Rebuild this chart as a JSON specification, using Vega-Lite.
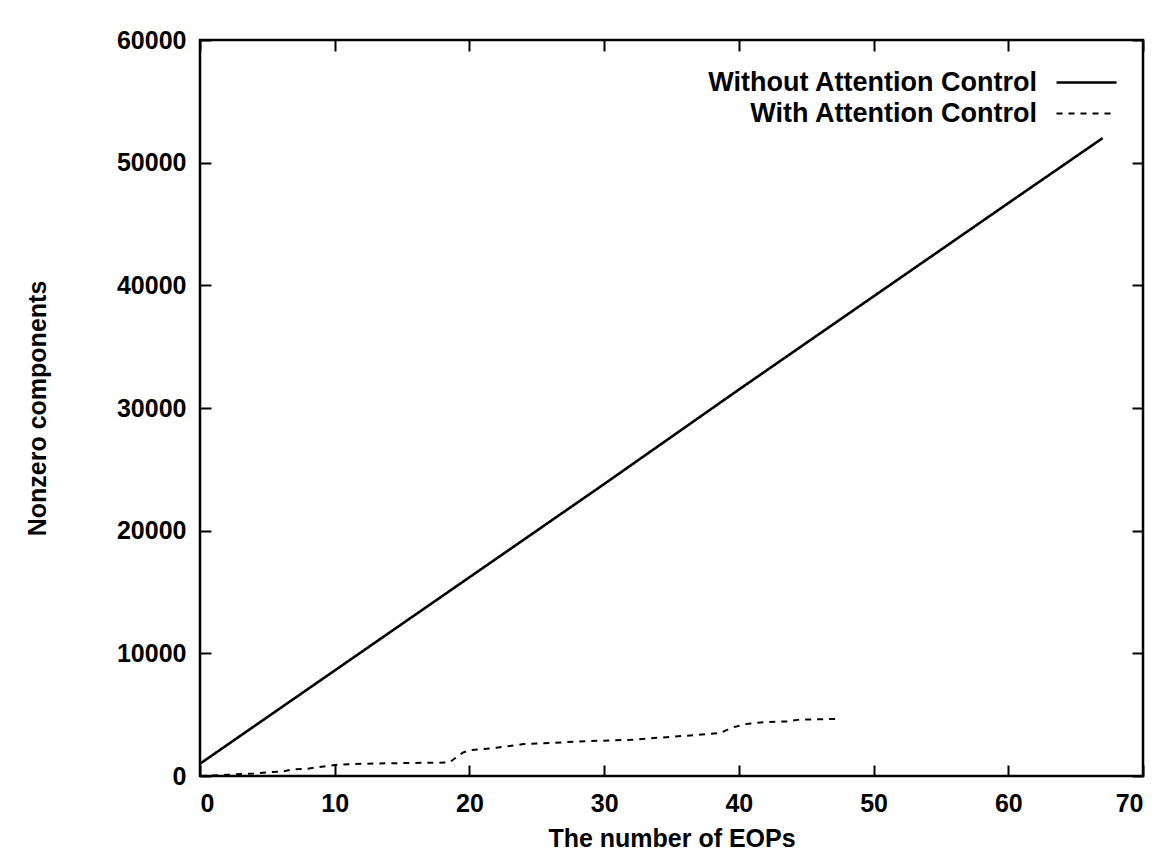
{
  "$schema": "https://vega.github.io/schema/vega-lite/v6.json",
  "autosize": "none",
  "padding": {"left": 200, "top": 40, "right": 29, "bottom": 82},
  "width": 943,
  "height": 736,
  "background": "white",
  "config": {
    "font": "Liberation Sans",
    "view": {"stroke": "black", "strokeWidth": 2.5},
    "axis": {
      "grid": false,
      "domain": false,
      "tickColor": "black",
      "tickSize": -11,
      "tickWidth": 2,
      "labelFont": "Liberation Sans",
      "labelFontWeight": "bold",
      "labelFontSize": 25,
      "labelColor": "black",
      "titleFont": "Liberation Sans",
      "titleFontWeight": "bold",
      "titleFontSize": 25,
      "titleColor": "black"
    }
  },
  "datasets": {
    "series": [
      {"eops": 0, "nonzero": 1000, "series": "Without Attention Control"},
      {"eops": 10, "nonzero": 8600, "series": "Without Attention Control"},
      {"eops": 20, "nonzero": 16200, "series": "Without Attention Control"},
      {"eops": 30, "nonzero": 23800, "series": "Without Attention Control"},
      {"eops": 40, "nonzero": 31500, "series": "Without Attention Control"},
      {"eops": 50, "nonzero": 39100, "series": "Without Attention Control"},
      {"eops": 60, "nonzero": 46700, "series": "Without Attention Control"},
      {"eops": 67, "nonzero": 52000, "series": "Without Attention Control"},
      {"eops": 0, "nonzero": 0, "series": "With Attention Control"},
      {"eops": 2, "nonzero": 100, "series": "With Attention Control"},
      {"eops": 4, "nonzero": 200, "series": "With Attention Control"},
      {"eops": 5, "nonzero": 300, "series": "With Attention Control"},
      {"eops": 6, "nonzero": 350, "series": "With Attention Control"},
      {"eops": 7, "nonzero": 550, "series": "With Attention Control"},
      {"eops": 8, "nonzero": 600, "series": "With Attention Control"},
      {"eops": 10, "nonzero": 900, "series": "With Attention Control"},
      {"eops": 12, "nonzero": 1000, "series": "With Attention Control"},
      {"eops": 15, "nonzero": 1050, "series": "With Attention Control"},
      {"eops": 18.5, "nonzero": 1100, "series": "With Attention Control"},
      {"eops": 19, "nonzero": 1500, "series": "With Attention Control"},
      {"eops": 19.5, "nonzero": 1900, "series": "With Attention Control"},
      {"eops": 20, "nonzero": 2100, "series": "With Attention Control"},
      {"eops": 22, "nonzero": 2300, "series": "With Attention Control"},
      {"eops": 24, "nonzero": 2600, "series": "With Attention Control"},
      {"eops": 26, "nonzero": 2700, "series": "With Attention Control"},
      {"eops": 29, "nonzero": 2850, "series": "With Attention Control"},
      {"eops": 32, "nonzero": 2950, "series": "With Attention Control"},
      {"eops": 35, "nonzero": 3200, "series": "With Attention Control"},
      {"eops": 37, "nonzero": 3350, "series": "With Attention Control"},
      {"eops": 38.6, "nonzero": 3500, "series": "With Attention Control"},
      {"eops": 39.5, "nonzero": 3950, "series": "With Attention Control"},
      {"eops": 40.6, "nonzero": 4250, "series": "With Attention Control"},
      {"eops": 42, "nonzero": 4400, "series": "With Attention Control"},
      {"eops": 43.6, "nonzero": 4450, "series": "With Attention Control"},
      {"eops": 44.5, "nonzero": 4600, "series": "With Attention Control"},
      {"eops": 47.3, "nonzero": 4650, "series": "With Attention Control"}
    ]
  },
  "layer": [
    {
      "data": {"name": "series"},
      "mark": {"type": "line", "color": "black"},
      "encoding": {
        "x": {
          "field": "eops", "type": "quantitative",
          "scale": {"domain": [0, 70], "nice": false, "zero": false},
          "axis": {"title": "The number of EOPs", "values": [0, 10, 20, 30, 40, 50, 60, 70], "format": "d", "labelPadding": 26, "titlePadding": 10, "orient": "bottom"}
        },
        "y": {
          "field": "nonzero", "type": "quantitative",
          "scale": {"domain": [0, 60000], "nice": false},
          "axis": {"title": "Nonzero components", "values": [0, 10000, 20000, 30000, 40000, 50000, 60000], "format": "d", "labelPadding": 25, "titlePadding": 66, "orient": "left"}
        },
        "strokeDash": {
          "field": "series", "type": "nominal",
          "scale": {"domain": ["Without Attention Control", "With Attention Control"], "range": [[1, 0], [6, 6]]},
          "legend": {
            "title": null,
            "orient": "none",
            "legendX": 873,
            "legendY": 29,
            "padding": 0,
            "symbolType": "M-3,0H3",
            "symbolSize": 400,
            "symbolStrokeColor": "black",
            "symbolStrokeWidth": 2,
            "labelAlign": "right",
            "labelOffset": -63,
            "labelFont": "Liberation Sans",
            "labelFontWeight": "bold",
            "labelFontSize": 27,
            "labelColor": "black",
            "labelLimit": 500,
            "rowPadding": 3
          }
        },
        "strokeWidth": {
          "field": "series", "type": "nominal",
          "scale": {"domain": ["Without Attention Control", "With Attention Control"], "range": [2.6, 2]},
          "legend": null
        }
      }
    },
    {
      "data": {"values": [{"eops": 0, "nonzero": 0}]},
      "mark": {"type": "point", "opacity": 0},
      "encoding": {
        "x": {"field": "eops", "type": "quantitative", "axis": {"orient": "top", "labels": false, "title": null, "values": [0, 10, 20, 30, 40, 50, 60, 70]}},
        "y": {"field": "nonzero", "type": "quantitative", "axis": {"orient": "right", "labels": false, "title": null, "values": [0, 10000, 20000, 30000, 40000, 50000, 60000]}}
      }
    }
  ],
  "resolve": {"axis": {"x": "independent", "y": "independent"}}
}
